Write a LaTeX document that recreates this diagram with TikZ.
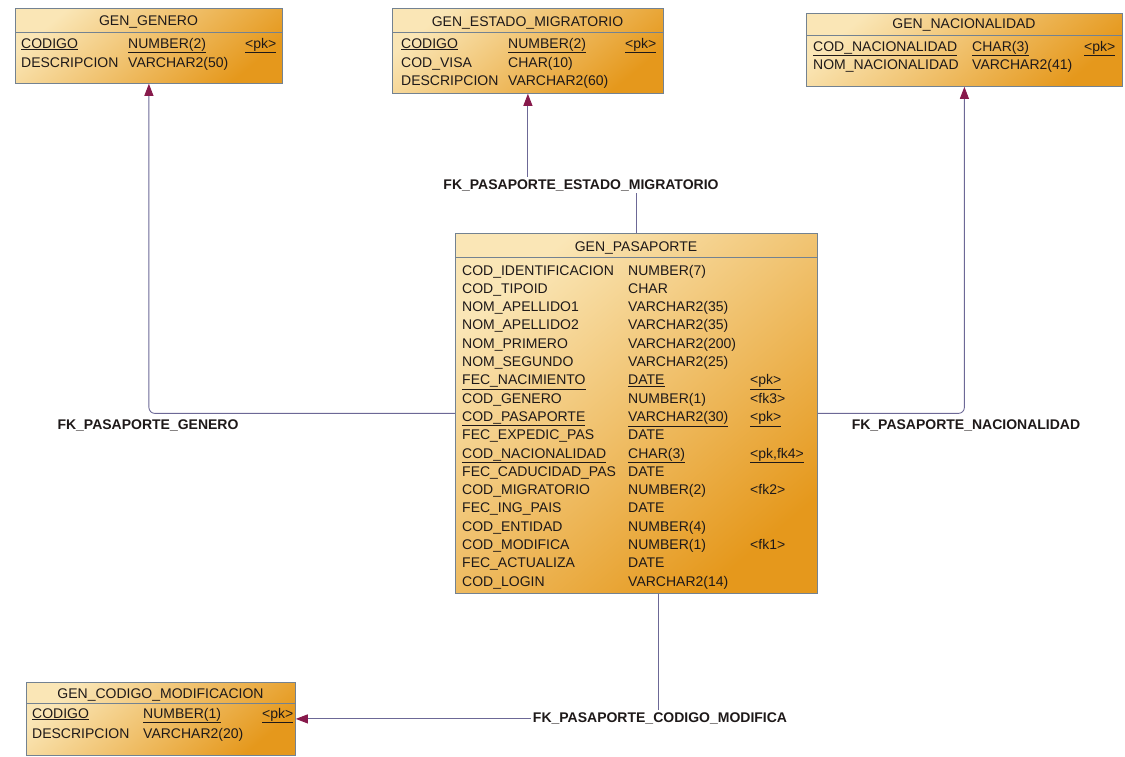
\documentclass[tikz,border=0pt]{standalone}
\usepackage{fontspec}
\setmainfont{Liberation Sans}
\usetikzlibrary{arrows.meta,backgrounds,calc}
\definecolor{tlight}{RGB}{250,230,182}
\definecolor{tdark}{RGB}{229,152,28}
\definecolor{tborder}{RGB}{115,130,145}
\definecolor{fkline}{RGB}{108,104,150}
\definecolor{fkhead}{RGB}{135,25,75}
\definecolor{txt}{RGB}{30,25,25}
\tikzset{
  tbl/.style={draw=tborder, line width=0.8pt, top color=tlight, bottom color=tdark, shading angle=40, anchor=north west, inner sep=0pt},
  sepline/.style={draw=tborder, line width=0.8pt},
  title/.style={font=\fontsize{14}{16}\selectfont, text=txt, inner sep=0pt, anchor=base},
  cell/.style={font=\fontsize{14}{16}\selectfont, text=txt, inner sep=0pt, anchor=base west},
  fk/.style={draw=fkline, line width=0.9pt},
  fkarrow/.style={fk, -{Triangle[length=12pt,width=9pt,color=fkhead]}},
  fklabel/.style={font=\bfseries\fontsize{14}{16}\selectfont, text=txt, fill=white, inner sep=2pt}
}
\newcommand{\ul}[1]{\underline{#1}}
\begin{document}
\begin{tikzpicture}[x=1pt,y=-1pt]
\useasboundingbox (0,0) rectangle (1125,756);

% ---------- GEN_GENERO ----------
\node[tbl, minimum width=267pt, minimum height=75pt] (gen) at (15,8) {};
\draw[sepline] (15,32) -- (282,32);
\node[title] (genT) at (148.5,25) {GEN\_GENERO};
\node[cell] (gen1a) at (21,48) {\ul{CODIGO}};
\node[cell] (gen1b) at (128,48) {\ul{NUMBER(2)}};
\node[cell] (gen1c) at (245,48) {\ul{<pk>}};
\node[cell] (gen2a) at (21,67) {DESCRIPCION};
\node[cell] (gen2b) at (128,67) {VARCHAR2(50)};

% ---------- GEN_ESTADO_MIGRATORIO ----------
\node[tbl, minimum width=271pt, minimum height=85pt] (est) at (392,8) {};
\draw[sepline] (392,32) -- (663,32);
\node[title] (estT) at (527.5,26) {GEN\_ESTADO\_MIGRATORIO};
\node[cell] (est1a) at (401,48) {\ul{CODIGO}};
\node[cell] (est1b) at (508,48) {\ul{NUMBER(2)}};
\node[cell] (est1c) at (625,48) {\ul{<pk>}};
\node[cell] (est2a) at (401,67) {COD\_VISA};
\node[cell] (est2b) at (508,67) {CHAR(10)};
\node[cell] (est3a) at (401,85) {DESCRIPCION};
\node[cell] (est3b) at (508,85) {VARCHAR2(60)};

% ---------- GEN_NACIONALIDAD ----------
\node[tbl, minimum width=316pt, minimum height=73pt] (nac) at (806,13) {};
\draw[sepline] (806,35) -- (1122,35);
\node[title] (nacT) at (964,28) {GEN\_NACIONALIDAD};
\node[cell] (nac1a) at (813,51) {\ul{COD\_NACIONALIDAD}};
\node[cell] (nac1b) at (972,51) {\ul{CHAR(3)}};
\node[cell] (nac1c) at (1084,51) {\ul{<pk>}};
\node[cell] (nac2a) at (813,69) {NOM\_NACIONALIDAD};
\node[cell] (nac2b) at (972,69) {VARCHAR2(41)};

% ---------- GEN_PASAPORTE ----------
\node[tbl, minimum width=362pt, minimum height=360pt] (pas) at (455,233) {};
\draw[sepline] (455,257) -- (817,257);
\node[title] (pasT) at (636,251) {GEN\_PASAPORTE};
\foreach \i/\n/\t/\k in {
  0/COD\_IDENTIFICACION/NUMBER(7)/,
  1/COD\_TIPOID/CHAR/,
  2/NOM\_APELLIDO1/VARCHAR2(35)/,
  3/NOM\_APELLIDO2/VARCHAR2(35)/,
  4/NOM\_PRIMERO/VARCHAR2(200)/,
  5/NOM\_SEGUNDO/VARCHAR2(25)/,
  6/\ul{FEC\_NACIMIENTO}/\ul{DATE}/\ul{<pk>},
  7/COD\_GENERO/NUMBER(1)/<fk3>,
  8/\ul{COD\_PASAPORTE}/\ul{VARCHAR2(30)}/\ul{<pk>},
  9/FEC\_EXPEDIC\_PAS/DATE/,
  10/\ul{COD\_NACIONALIDAD}/\ul{CHAR(3)}/\ul{<pk,fk4>},
  11/FEC\_CADUCIDAD\_PAS/DATE/,
  12/COD\_MIGRATORIO/NUMBER(2)/<fk2>,
  13/FEC\_ING\_PAIS/DATE/,
  14/COD\_ENTIDAD/NUMBER(4)/,
  15/COD\_MODIFICA/NUMBER(1)/<fk1>,
  16/FEC\_ACTUALIZA/DATE/,
  17/COD\_LOGIN/VARCHAR2(14)/}{
  \node[cell] (pasN\i) at (462,275+18.3*\i) {\n};
  \node[cell] (pasY\i) at (628,275+18.3*\i) {\t};
  \node[cell] (pasK\i) at (750,275+18.3*\i) {\k};
}

% ---------- GEN_CODIGO_MODIFICACION ----------
\node[tbl, minimum width=269pt, minimum height=73pt] (cod) at (26,682) {};
\draw[sepline] (26,703) -- (295,703);
\node[title] (codT) at (160.5,698) {GEN\_CODIGO\_MODIFICACION};
\node[cell] (cod1a) at (32,718) {\ul{CODIGO}};
\node[cell] (cod1b) at (143,718) {\ul{NUMBER(1)}};
\node[cell] (cod1c) at (262,718) {\ul{<pk>}};
\node[cell] (cod2a) at (32,738) {DESCRIPCION};
\node[cell] (cod2b) at (143,738) {VARCHAR2(20)};

% ---------- FK labels ----------
\node[fklabel] (lGen) at (148,425) {FK\_PASAPORTE\_GENERO};
\node[fklabel] (lEst) at (581,185) {FK\_PASAPORTE\_ESTADO\_MIGRATORIO};
\node[fklabel] (lNac) at (966,425) {FK\_PASAPORTE\_NACIONALIDAD};
\node[fklabel] (lCod) at (660,718) {FK\_PASAPORTE\_CODIGO\_MODIFICA};

% ---------- connectors ----------
\begin{pgfonlayer}{background}
\draw[fkarrow, rounded corners=6pt] (pas.west) -| (gen.south);
\draw[fkarrow, rounded corners=6pt] (pas.east) -| (nac.south);
\draw[fkarrow] (pas.north) |- (lEst.center) -| (est.south);
\draw[fkarrow] ([xshift=22pt]pas.south) |- (cod.east);
\end{pgfonlayer}
\end{tikzpicture}
\end{document}
